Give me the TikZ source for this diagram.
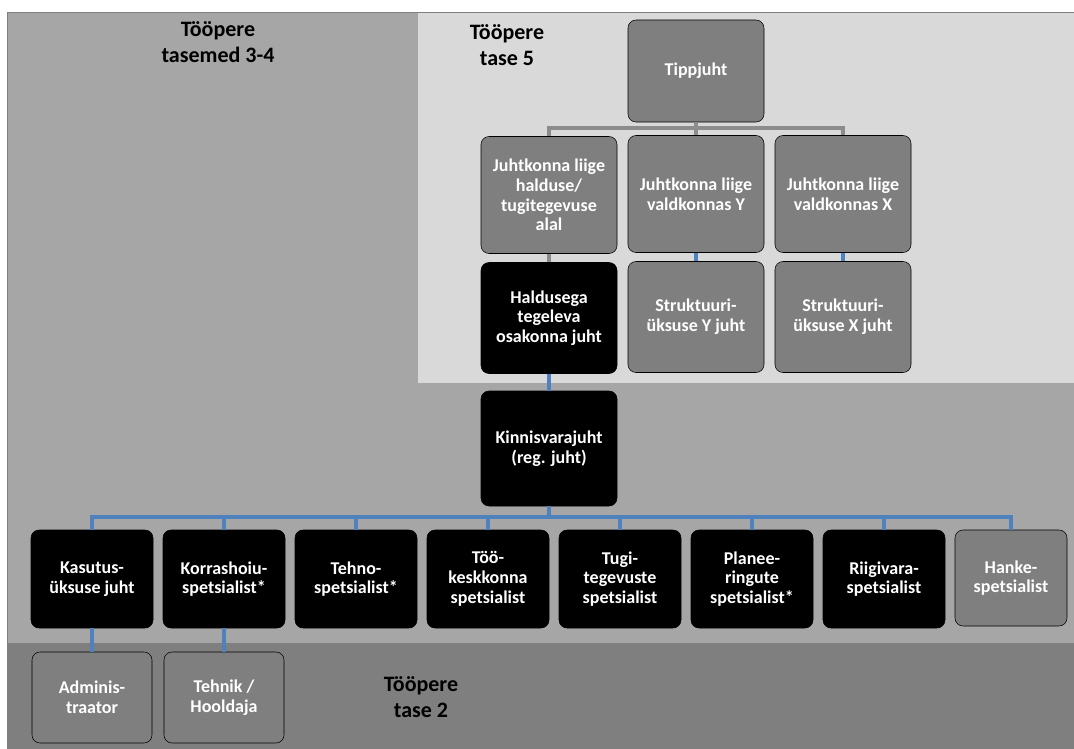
\documentclass[tikz,border=0pt]{standalone}
\usepackage{fontspec}
\setsansfont{Carlito}
\usepackage{tikz}
\definecolor{Mid}{HTML}{A6A6A6}
\definecolor{Light}{HTML}{D9D9D9}
\definecolor{Dark}{HTML}{7F7F7F}
\definecolor{BoxGray}{HTML}{7F7F7F}
\definecolor{Link}{HTML}{4F81BD}
\definecolor{Bar}{HTML}{8C8C8C}

\begin{document}
\begin{tikzpicture}[
  x=0.75pt, y=-0.75pt,
  font=\sffamily\bfseries,
  unit/.style={rounded corners=6pt, align=center, text=white, inner sep=2pt,
    font=\sffamily\bfseries\fontsize{13.5}{14.8}\selectfont},
  greybox/.style={unit, draw=black, thin, fill=BoxGray},
  blackbox/.style={unit, draw=black, fill=black},
  topsize/.style={minimum width=102pt, minimum height=#1},
  rowsize/.style={minimum width=91.5pt, minimum height=73.5pt},
  level/.style={align=center, font=\sffamily\bfseries\fontsize{16.5}{19.5}\selectfont},
  greylink/.style={draw=Bar, line width=2.7pt},
  bluelink/.style={draw=Link, line width=2.7pt}
]
\useasboundingbox (0,0) rectangle (1074,749);
% background bands
\fill[Mid] (7,12) rectangle (1074,643);
\fill[Light] (418,12) rectangle (1074,383);
\fill[Dark] (7,643) rectangle (1074,749);
\draw[Dark, thin] (7,749) -- (7,12) -- (1074,12);

\node[level] (lvl34) at (218,42) {Tööpere\\tasemed 3-4};
\node[level] (lvl5) at (507,45) {Tööpere\\tase 5};
\node[level] (lvl2) at (421,697) {Tööpere\\tase 2};

% top part
\node[greybox, topsize=76.5pt] (tipp) at (696,71) {Tippjuht};
\node[greybox, topsize=87.75pt] (hald) at (549,195) {Juhtkonna liige\\halduse/\\tugitegevuse\\alal};
\node[greybox, topsize=87.75pt] (ljy) at (696,194) {Juhtkonna liige\\valdkonnas Y};
\node[greybox, topsize=87.75pt] (ljx) at (843,194) {Juhtkonna liige\\valdkonnas X};
\node[blackbox, topsize=83.25pt] (haldj) at (549,318) {Haldusega\\tegeleva\\osakonna juht};
\node[greybox, topsize=83.25pt] (stry) at (696,317) {Struktuuri-\\üksuse Y juht};
\node[greybox, topsize=83.25pt] (strx) at (843,317) {Struktuuri-\\üksuse X juht};
\node[blackbox, topsize=86.25pt] (kinn) at (549,448.5) {Kinnisvarajuht\\(reg. juht)};

% specialists
\node[blackbox, rowsize] (kasutus) at (92,579) {Kasutus-\\üksuse juht};
\node[blackbox, rowsize] (korras) at (224,579) {Korrashoiu-\\spetsialist*};
\node[blackbox, rowsize] (tehno) at (356,579) {Tehno-\\spetsialist*};
\node[blackbox, rowsize] (tookesk) at (488,579) {Töö-\\keskkonna\\spetsialist};
\node[blackbox, rowsize] (tugi) at (620,579) {Tugi-\\tegevuste\\spetsialist};
\node[blackbox, rowsize] (planee) at (752,579) {Planee-\\ringute\\spetsialist*};
\node[blackbox, rowsize] (riigi) at (884,579) {Riigivara-\\spetsialist};
\node[greybox, minimum width=84pt, minimum height=72pt] (hanke) at (1011,578) {Hanke-\\spetsialist};

\node[greybox, minimum width=90pt, minimum height=68.25pt] (admin) at (92,697.5) {Adminis-\\traator};
\node[greybox, minimum width=90pt, minimum height=68.25pt] (tehnik) at (224,697.5) {Tehnik /\\Hooldaja};

% connectors
\draw[greylink] (tipp.south) -- ++(0,6) coordinate (bar) -| (hald.north);
\draw[greylink] (bar) -| (ljx.north);
\draw[greylink] (tipp.south) -- (ljy.north);
\draw[greylink] (hald) -- (haldj);
\draw[bluelink] (ljy) -- (stry);
\draw[bluelink] (ljx) -- (strx);
\draw[bluelink] (haldj) -- (kinn);
\foreach \n in {kasutus,korras,tehno,tookesk,tugi,planee,riigi,hanke}
  \draw[bluelink] (kinn.south) -- ++(0,11) -| (\n.north);
\draw[bluelink] (kasutus) -- (admin);
\draw[bluelink] (korras) -- (tehnik);
\end{tikzpicture}
\end{document}
